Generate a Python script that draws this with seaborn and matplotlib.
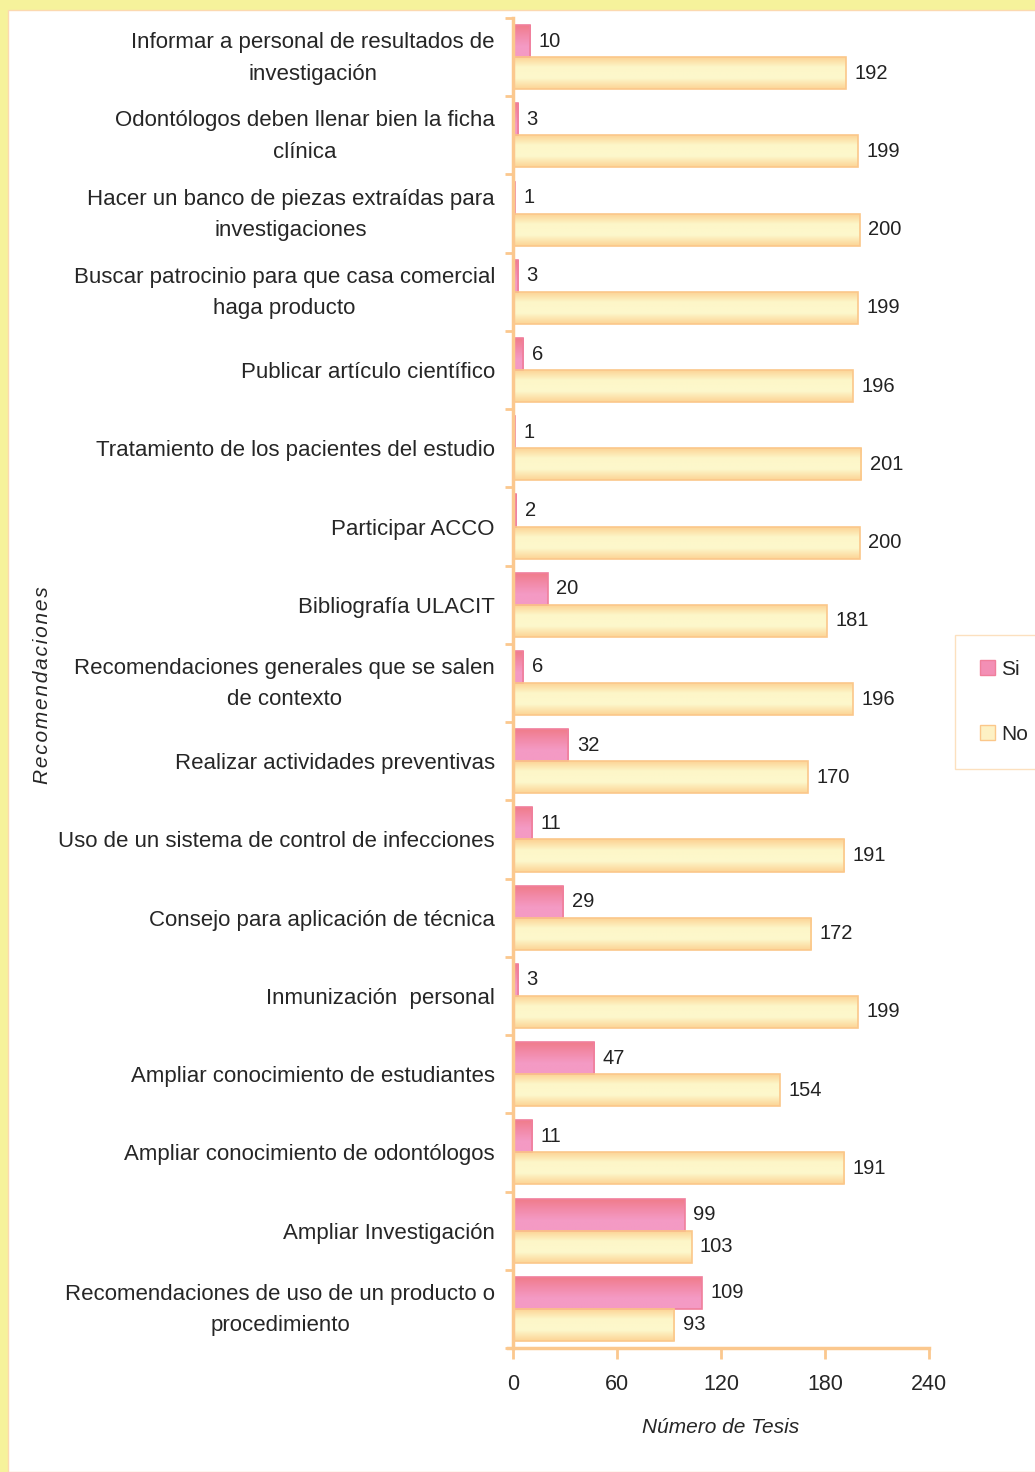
import matplotlib
matplotlib.use("Agg")
import matplotlib.pyplot as plt
import matplotlib.transforms as mtransforms
import numpy as np
import pandas as pd
import seaborn as sns
from matplotlib.colors import LinearSegmentedColormap
from matplotlib.patches import Rectangle

sns.set_style("white")
plt.rcParams['font.family'] = ['Liberation Sans', 'DejaVu Sans']

# data
categorias = [
    "Informar a personal de resultados de\ninvestigación",
    "Odontólogos deben llenar bien la ficha\nclínica",
    "Hacer un banco de piezas extraídas para\ninvestigaciones",
    "Buscar patrocinio para que casa comercial\nhaga producto",
    "Publicar artículo científico",
    "Tratamiento de los pacientes del estudio",
    "Participar ACCO",
    "Bibliografía ULACIT",
    "Recomendaciones generales que se salen\nde contexto",
    "Realizar actividades preventivas",
    "Uso de un sistema de control de infecciones",
    "Consejo para aplicación de técnica",
    "Inmunización  personal",
    "Ampliar conocimiento de estudiantes",
    "Ampliar conocimiento de odontólogos",
    "Ampliar Investigación",
    "Recomendaciones de uso de un producto o\nprocedimiento",
]
si = [10, 3, 1, 3, 6, 1, 2, 20, 6, 32, 11, 29, 3, 47, 11, 99, 109]
no = [192, 199, 200, 199, 196, 201, 200, 181, 196, 170, 191, 172, 199, 154, 191, 103, 93]
series = ["Si", "No"]
xticks = [0, 60, 120, 180, 240]

df = pd.DataFrame({
    "Recomendacion": categorias * 2,
    "Respuesta": ["Si"] * len(si) + ["No"] * len(no),
    "Tesis": si + no,
})

orange = "#fbc88e"
fig = plt.figure(figsize=(10.35, 14.72), dpi=100)
fig.patch.set_facecolor("#f6f29b")
fig.patches.append(Rectangle((8 / 1035, 0), 1, 1 - 10 / 1472, transform=fig.transFigure,
                             facecolor="white", edgecolor="#fcd9b0", linewidth=1, zorder=-5))

ax = fig.add_axes([513 / 1035, 1 - 1348 / 1472, 416 / 1035, 1330 / 1472])
ax.set_facecolor("none")
sns.barplot(data=df, y="Recomendacion", x="Tesis", hue="Respuesta", hue_order=series,
            palette={"Si": "#f38fb5", "No": "#fdf1c4"}, orient="h", width=0.82,
            ax=ax, legend=True, saturation=1)

# gradient fill per bar
grad_si = LinearSegmentedColormap.from_list("si", ["#f07b88", "#f28aa8", "#f49ac4", "#f49ac4"])
grad_no = LinearSegmentedColormap.from_list("no", ["#fcd191", "#fdf6c8", "#fdf8cc", "#fcd495"])
edges = {"Si": "#f07f9c", "No": "#fbc78a"}
g = np.linspace(0, 1, 64).reshape(-1, 1)
for cont, name, cmap in zip(ax.containers, series, [grad_si, grad_no]):
    for p in cont.patches:
        p.set_edgecolor(edges[name])
        p.set_linewidth(1.2)
        x0, y0, w, h = p.get_x(), p.get_y(), p.get_width(), p.get_height()
        im = ax.imshow(g, cmap=cmap, extent=[x0, x0 + w, y0, y0 + h], origin="lower",
                       aspect="auto", zorder=p.get_zorder() - 0.1, interpolation="bilinear")
        im.set_clip_path(p)
        p.set_facecolor("none")
        p.set_zorder(p.get_zorder() + 0.2)
    ax.bar_label(cont, padding=6, fontsize=14.5, color="#222222")

ax.set_xlim(0, 240)
ax.set_ylim(len(categorias) - 0.5, -0.5)
ax.set_xticks(xticks)
ax.set_xticklabels([str(t) for t in xticks], fontsize=15.5)
ax.set_yticks(range(len(categorias)))
ax.set_yticklabels(categorias, fontsize=16, multialignment="center", linespacing=1.65)
ax.set_yticks(np.arange(-0.5, len(categorias), 1), minor=True)
ax.tick_params(axis="y", which="major", left=False, length=0, pad=13)
ax.tick_params(axis="y", which="minor", left=True, length=6, width=2, color=orange, direction="out")
ax.tick_params(axis="x", bottom=True, length=8, width=2, color=orange, direction="out", pad=11)

# two-line labels sit a bit high in the original
shift = mtransforms.ScaledTranslation(0, 0.065, fig.dpi_scale_trans)
for lab in ax.get_yticklabels():
    if "\n" in lab.get_text():
        lab.set_transform(lab.get_transform() + shift)

for side in ["top", "right"]:
    ax.spines[side].set_visible(False)
for side in ["left", "bottom"]:
    ax.spines[side].set_color(orange)
    ax.spines[side].set_linewidth(2.5)
ax.spines["bottom"].set_bounds(-3, 240)

ax.set_ylabel("")
ax.set_xlabel("Número de Tesis", fontsize=15, style="italic", labelpad=16)
fig.text(43 / 1035, 1 - 685 / 1472, "\u200a".join("Recomendaciones"), rotation=90,
         fontsize=15, style="italic", ha="center", va="center")

leg = ax.legend(loc="center left", bbox_to_anchor=(955 / 1035, 1 - 702 / 1472),
                bbox_transform=fig.transFigure, frameon=True, fontsize=15,
                handlelength=0.7, handleheight=0.7, handletextpad=0.3,
                labelspacing=2.2, borderpad=1.2, fancybox=False, borderaxespad=0)
leg.get_frame().set_edgecolor("#fcd9b0")
leg.get_frame().set_linewidth(1)
for h_, name in zip(leg.legend_handles, series):
    h_.set_edgecolor(edges[name])

fig.savefig("out.png", dpi=100)
